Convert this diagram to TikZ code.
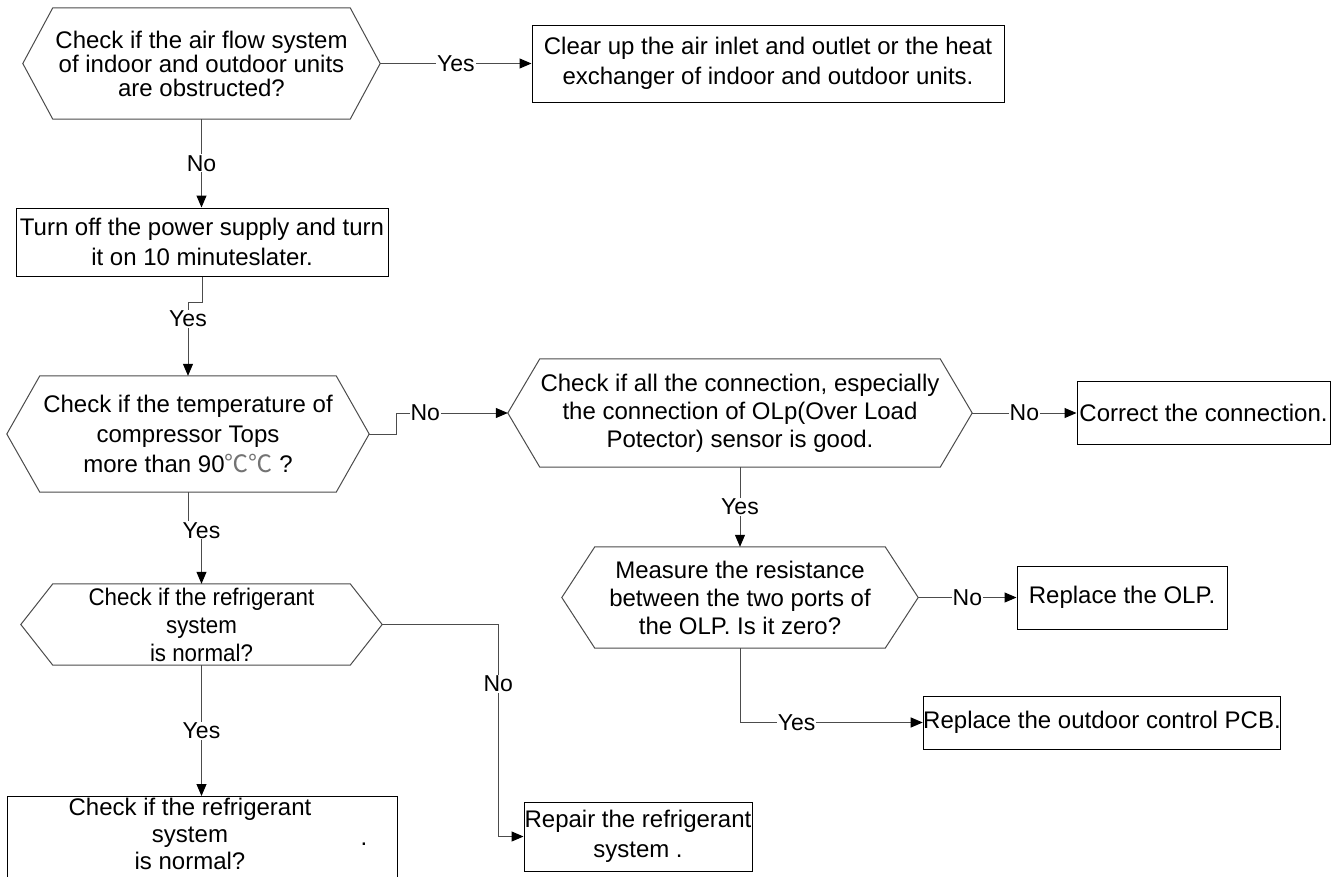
\documentclass[tikz,border=0pt]{standalone}
\usepackage{fontspec}
\setmainfont{Liberation Sans}
\newfontfamily\cjk{Noto Sans CJK SC}
\newfontfamily\narrowsans[FakeStretch=0.93]{Liberation Sans}
\usetikzlibrary{arrows.meta,calc}

% hexagon round a text node: #1 node name, #2 depth of the points
\newcommand{\hexframe}[2]{%
  \draw[hexline] (#1.north west) -- (#1.north east) -- ($(#1.east)+(#2,0)$) coordinate (#1-r)
    -- (#1.south east) -- (#1.south west) -- ($(#1.west)+(-#2,0)$) coordinate (#1-l) -- cycle;}

\begin{document}
\begin{tikzpicture}[x=1pt, y=-1pt,
  hexq/.style={inner sep=0pt, align=center, font=\fontsize{24}{28}\selectfont},
  hexline/.style={draw=black!70, line width=1pt},
  box/.style={draw, line width=1pt, inner sep=0pt, align=center, font=\fontsize{24}{30}\selectfont},
  lbl/.style={fill=white, inner sep=1pt, font=\fontsize{23}{23}\selectfont},
  conn/.style={draw=black!70, line width=1pt, -{Triangle[length=12pt, width=10pt, color=black]}}]
  \useasboundingbox (0,0) rectangle (1344,876);
  \clip (0,0) rectangle (1344,876);
  \fill[white] (0,0) rectangle (1344,876);

  % questions
  \node[hexq, minimum width=297pt, minimum height=111pt, font=\fontsize{24}{24}\selectfont] (q1) at (201.5,63.5)
    {Check if the air flow system\\of indoor and outdoor units\\are obstructed?};
  \hexframe{q1}{30}
  \node[hexq, minimum width=296pt, minimum height=116pt, font=\fontsize{24}{30}\selectfont] (q3) at (188,434)
    {Check if the temperature of\\compressor Tops\\more than 90{\cjk\color{black!55}℃℃} ?};
  \hexframe{q3}{33}
  \node[hexq, minimum width=400pt, minimum height=108pt] (q4) at (740,413)
    {Check if all the connection, especially\\the connection of OLp(Over Load\\Potector) sensor is good.};
  \hexframe{q4}{32}
  \node[hexq, minimum width=290pt, minimum height=101pt] (q6) at (740,597.5)
    {Measure the resistance\\between the two ports of\\the OLP. Is it zero?};
  \hexframe{q6}{33}
  \node[hexq, minimum width=297pt, minimum height=81pt, font=\narrowsans\fontsize{24}{28}\selectfont] (q5) at (201.5,624.5)
    {Check if the refrigerant\\system\\is normal?};
  \hexframe{q5}{32}

  % actions
  \node[box, minimum width=472pt, minimum height=77pt] (b1) at (768,63.5)
    {Clear up the air inlet and outlet or the heat\\exchanger of indoor and outdoor units.};
  \node[box, minimum width=372pt, minimum height=68pt] (b2) at (202,242)
    {Turn off the power supply and turn\\it on 10 minuteslater.};
  \node[box, minimum width=253pt, minimum height=63pt] (b3) at (1203.5,413) {Correct the connection.};
  \node[box, minimum width=210pt, minimum height=63pt] (b4) at (1122,597.5) {Replace the OLP.};
  \node[box, minimum width=356pt, minimum height=53pt] (b5) at (1102,722.5) {Replace the outdoor control PCB.};
  \node[box, minimum width=228pt, minimum height=69pt] (rep) at (638,836.5) {Repair the refrigerant\\system .};
  \node[box, anchor=north, minimum width=390pt, minimum height=84pt] (bb) at (202,796) {};
  \node[hexq, font=\fontsize{24}{27}\selectfont] (bbtext) at ($(bb.center)+(-12,-5)$)
    {Check if the refrigerant\\system\\is normal?};
  \node[anchor=base, inner sep=0pt, font=\fontsize{24}{30}\selectfont] (dot) at (364,845) {.};

  % connectors
  \draw[conn] (q1-r) -- node[lbl]{Yes} (b1);
  \draw[conn] (q1.south) -- node[lbl]{No} (b2.north -| q1.south);
  \draw[conn] (b2.south) -- ++(0,26) -| node[lbl, pos=0.61]{Yes} (q3.north);
  \draw[conn] (q3-r) -- ++(27,0) |- node[lbl, pos=0.63]{No} (q4-l);
  \draw[conn] (q4-r) -- node[lbl]{No} (b3.west);
  \draw[conn] (q4.south) -- node[lbl]{Yes} (q6.north);
  \draw[conn] (q6-r) -- node[lbl]{No} (b4.west);
  \draw[conn] (q6.south) |- node[lbl, pos=0.655]{Yes} (b5.west);
  \draw[conn] (q3.south) -- ++(0,38) -| node[lbl, pos=0.5]{Yes} (q5.north);
  \draw[conn] (q5.south) -- node[lbl]{Yes} (bb.north -| q5.south);
  \draw[conn] (q5-r) -- ++(116,0) |- node[lbl, pos=0.14]{No} (rep.west);
\end{tikzpicture}
\end{document}
